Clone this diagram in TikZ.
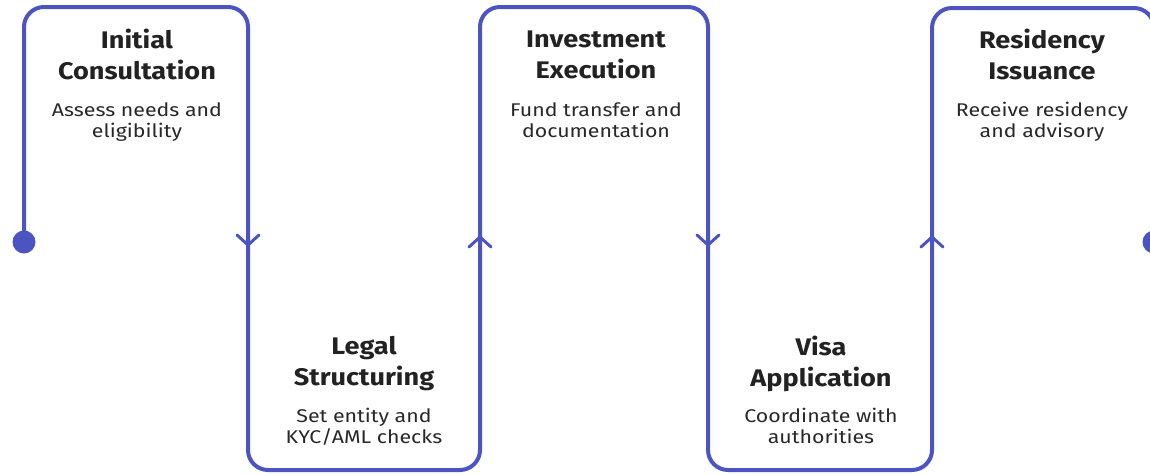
\documentclass[tikz,border=0pt]{standalone}
\usepackage{fontspec}
\setmainfont{Fira Sans}
\newfontfamily\ttlfont[FakeStretch=1.13]{Fira Sans}
\newfontfamily\subfont[FakeStretch=1.16]{Fira Sans}
\definecolor{flow}{RGB}{76,84,193}
\definecolor{ttl}{RGB}{34,34,34}
\definecolor{sub}{RGB}{40,40,40}
\begin{document}
\begin{tikzpicture}[x=1pt,y=-1pt,
  flowline/.style={draw=flow,line width=4pt,rounded corners=20pt},
  chev/.style={draw=flow,line width=3pt,line cap=round,line join=round},
  dotnode/.style={circle,fill=flow,minimum size=23pt,inner sep=0pt},
  titletext/.style={anchor=north,inner sep=0pt,align=center,text=ttl,font=\ttlfont\fontsize{24}{31}\selectfont\bfseries},
  subtext/.style={anchor=north,inner sep=0pt,align=center,text=sub,font=\subfont\fontsize{18.4}{21}\selectfont}]
\useasboundingbox (0,0) rectangle (1150,474);
\clip (0,0) rectangle (1150,474);
% corners
\coordinate (c1) at (24,7);
\coordinate (c2) at (248,7);
\coordinate (c3) at (248,470);
\coordinate (c4) at (480,470);
\coordinate (c5) at (480,7);
\coordinate (c6) at (708,7);
\coordinate (c7) at (708,470);
\coordinate (c8) at (932,470);
\coordinate (c9) at (932,8);
\coordinate (c10) at (1154,8);
\node[dotnode] (start) at (24,242) {};
\node[dotnode] (finish) at (1154,242) {};
\draw[flowline] (start.center) -- (c1) -- (c2) -- (c3) -- (c4) -- (c5) -- (c6) -- (c7) -- (c8) -- (c9) -- (c10) -- (finish.center);
% chevrons
\coordinate (a1) at (248,245);
\coordinate (a2) at (480,237);
\coordinate (a3) at (708,245);
\coordinate (a4) at (932,237);
\draw[chev] (a1) ++(-11,-10) -- (a1) -- ++(11,-10);
\draw[chev] (a2) ++(-11,10) -- (a2) -- ++(11,10);
\draw[chev] (a3) ++(-11,-10) -- (a3) -- ++(11,-10);
\draw[chev] (a4) ++(-11,10) -- (a4) -- ++(11,10);
% texts
\node[titletext] (t1) at (137,29) {\vphantom{l}Initial\\Consultation};
\node[subtext] (s1) at (137,102) {\vphantom{l}Assess needs and\\eligibility};
\node[titletext] (t2) at (364,336) {\vphantom{l}Legal\\Structuring};
\node[subtext] (s2) at (364,408) {\vphantom{l}Set entity and\\KYC/AML checks};
\node[titletext] (t3) at (596,29) {\vphantom{l}Investment\\Execution};
\node[subtext] (s3) at (596,102) {\vphantom{l}Fund transfer and\\documentation};
\node[titletext] (t4) at (821,336) {\vphantom{l}Visa\\Application};
\node[subtext] (s4) at (821,408) {\vphantom{l}Coordinate with\\authorities};
\node[titletext] (t5) at (1042,29) {\vphantom{l}Residency\\Issuance};
\node[subtext] (s5) at (1042,102) {\vphantom{l}Receive residency\\and advisory};
\end{tikzpicture}
\end{document}
